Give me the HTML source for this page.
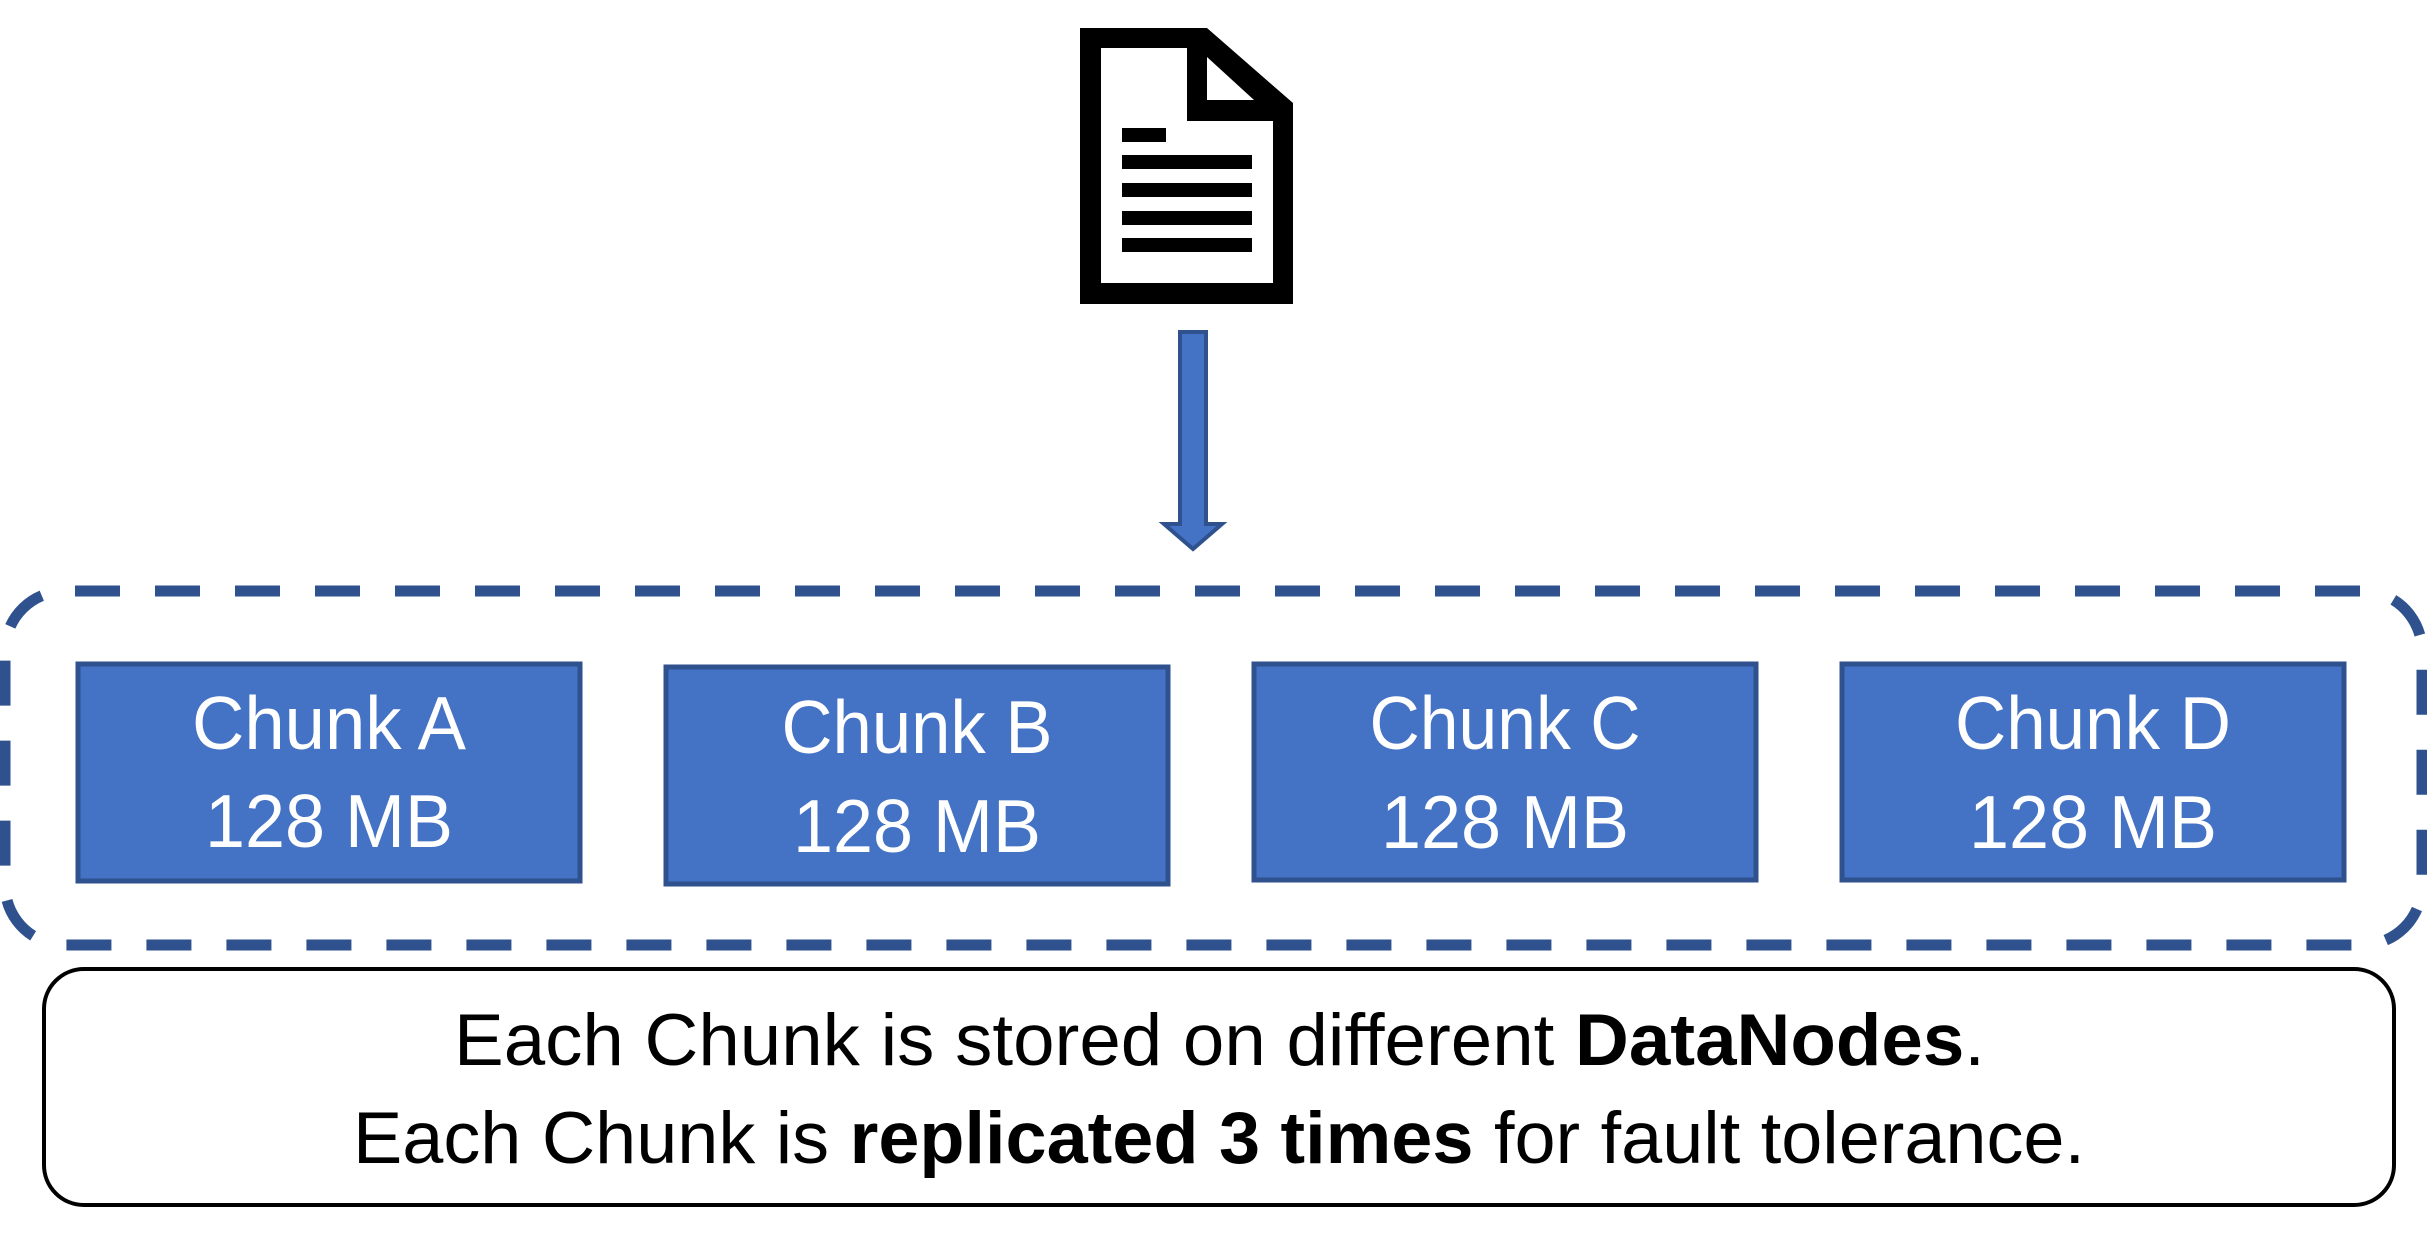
<!DOCTYPE html>
<html><head><meta charset="utf-8"><style>html,body{margin:0;padding:0;background:#fff;}svg{display:block;}</style></head>
<body>
<svg width="2427" height="1236" viewBox="0 0 2427 1236" xmlns="http://www.w3.org/2000/svg" font-family="Liberation Sans, sans-serif">
<!-- document icon -->
<path d="M1080,28 L1207,28 L1293,103 L1293,304 L1080,304 Z M1101,48 L1101,283 L1273,283 L1273,121 L1187,121 L1187,48 Z" fill="#000" fill-rule="evenodd"/>
<path d="M1207,57 L1207,100 L1254,100 Z" fill="#fff"/>
<rect x="1122" y="128" width="44" height="14" fill="#000"/>
<rect x="1122" y="155" width="130" height="14" fill="#000"/>
<rect x="1122" y="183" width="130" height="14" fill="#000"/>
<rect x="1122" y="211" width="130" height="14" fill="#000"/>
<rect x="1122" y="238" width="130" height="14" fill="#000"/>
<!-- arrow -->
<path d="M1180,332 L1206,332 L1206,524 L1222,524 L1193,549 L1164,524 L1180,524 Z" fill="#4472C4" stroke="#2F528F" stroke-width="4"/>
<!-- dashed container -->
<rect x="5" y="591" width="2417" height="354" rx="60" ry="60" fill="none" stroke="#2F528F" stroke-width="11" stroke-dasharray="45 35" stroke-dashoffset="-10"/>
<!-- chunks -->
<g fill="#4472C4" stroke="#2F528F" stroke-width="5">
<rect x="78" y="664" width="502" height="217"/>
<rect x="666" y="667" width="502" height="217"/>
<rect x="1254" y="664" width="502" height="216"/>
<rect x="1842" y="664" width="502" height="216"/>
</g>
<g fill="#fff" font-size="75" text-anchor="middle">
<text x="329" y="749" textLength="274" lengthAdjust="spacingAndGlyphs">Chunk A</text>
<text x="329" y="847" textLength="248" lengthAdjust="spacingAndGlyphs">128 MB</text>
<text x="917" y="753" textLength="271" lengthAdjust="spacingAndGlyphs">Chunk B</text>
<text x="917" y="852" textLength="248" lengthAdjust="spacingAndGlyphs">128 MB</text>
<text x="1505" y="749" textLength="271" lengthAdjust="spacingAndGlyphs">Chunk C</text>
<text x="1505" y="848" textLength="248" lengthAdjust="spacingAndGlyphs">128 MB</text>
<text x="2093" y="749" textLength="276" lengthAdjust="spacingAndGlyphs">Chunk D</text>
<text x="2093" y="848" textLength="248" lengthAdjust="spacingAndGlyphs">128 MB</text>
</g>
<!-- bottom box -->
<rect x="44" y="969" width="2350" height="236" rx="40" ry="40" fill="#fff" stroke="#000" stroke-width="4"/>
<g fill="#000" font-size="73">
<text x="454" y="1065" textLength="1531" lengthAdjust="spacingAndGlyphs">Each Chunk is stored on different <tspan font-weight="bold">DataNodes</tspan>.</text>
<text x="353" y="1163" textLength="1732" lengthAdjust="spacingAndGlyphs">Each Chunk is <tspan font-weight="bold">replicated 3 times</tspan> for fault tolerance.</text>
</g>
</svg>
</body></html>
